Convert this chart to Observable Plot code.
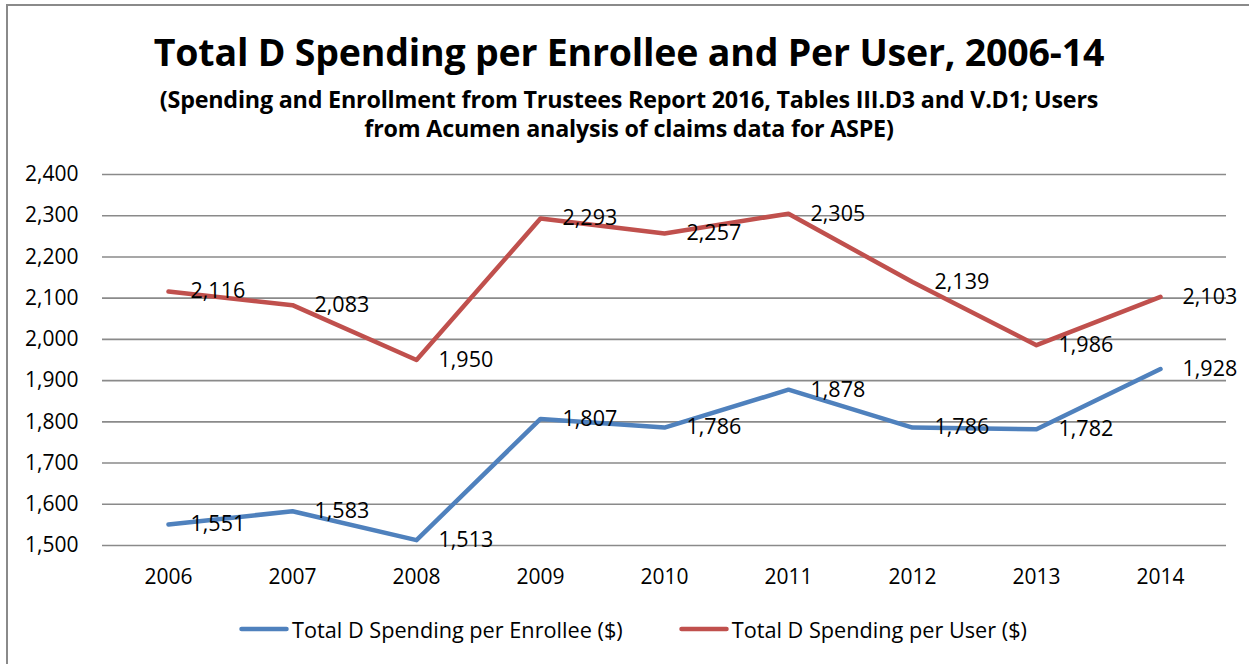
<!DOCTYPE html>
<html>
<head>
<meta charset="utf-8">
<script src="https://cdn.jsdelivr.net/npm/d3@7"></script>
<script src="https://cdn.jsdelivr.net/npm/@observablehq/plot@0.6"></script>
<style>
  html, body { margin: 0; padding: 0; background: #fff; overflow: hidden; width: 1249px; height: 664px; }
  body { position: relative; font-family: "Open Sans", Lato, sans-serif; color: #000; }
  #frame { position: absolute; left: 6px; top: 4px; width: 1270px; height: 700px; border: 2px solid #8a8a8a; box-sizing: border-box; }
  #title { position: absolute; left: 0; width: 1258px; top: 30px; line-height: 44px; text-align: center; font-weight: bold; font-size: 37.5px; letter-spacing: -0.2px; }
  #subtitle { position: absolute; left: 0; width: 1258px; top: 85px; line-height: 29px; text-align: center; font-weight: bold; font-size: 23.3px; letter-spacing: -0.2px; }
  #chart { position: absolute; left: 0; top: 150px; }
  #legend { position: absolute; left: 0; width: 1266px; top: 614px; height: 30px; display: flex; justify-content: center; align-items: center; gap: 56px; font-size: 21.7px; }
  .item { display: flex; align-items: center; gap: 3px; }
</style>
</head>
<body>
<div id="frame"></div>
<div id="title"></div>
<div id="subtitle"></div>
<div id="chart"></div>
<div id="legend"></div>
<script>
const titleText = "Total D Spending per Enrollee and Per User, 2006-14";
const subtitleLines = [
  "(Spending and Enrollment from Trustees Report 2016, Tables III.D3 and V.D1; Users",
  "from Acumen analysis of claims data for ASPE)"
];
const years = ["2006", "2007", "2008", "2009", "2010", "2011", "2012", "2013", "2014"];
const perEnrollee = [1551, 1583, 1513, 1807, 1786, 1878, 1786, 1782, 1928];
const perUser = [2116, 2083, 1950, 2293, 2257, 2305, 2139, 1986, 2103];
const yTicks = [1500, 1600, 1700, 1800, 1900, 2000, 2100, 2200, 2300, 2400];
const seriesNames = ["Total D Spending per Enrollee ($)", "Total D Spending per User ($)"];
const seriesColors = ["#4F81BD", "#C0504D"];

document.getElementById("title").textContent = titleText;
document.getElementById("subtitle").innerHTML = subtitleLines.map(s => s.replace(/&/g, "&amp;")).join("<br>");

const fmt = d3.format(",");
const data = [];
years.forEach((y, i) => {
  data.push({year: y, value: perEnrollee[i], series: seriesNames[0]});
  data.push({year: y, value: perUser[i], series: seriesNames[1]});
});

const chart = Plot.plot({
  width: 1249,
  height: 450,
  marginLeft: 102,
  marginRight: 23,
  marginTop: 24,
  marginBottom: 55,
  style: {fontFamily: "'Open Sans', Lato, sans-serif", fontSize: "21px", color: "#000", background: "transparent", overflow: "visible"},
  x: {type: "point", domain: years, padding: 0.5, label: null},
  y: {domain: [1500, 2400], label: null},
  color: {domain: seriesNames, range: seriesColors},
  marks: [
    Plot.gridY(yTicks, {stroke: "#8a8a8a", strokeOpacity: 1, strokeWidth: 1.6}),
    Plot.axisY({ticks: yTicks, tickSize: 0, tickPadding: 24, tickFormat: fmt, label: null, fontSize: 21}),
    Plot.axisX({tickSize: 0, tickPadding: 24, label: null, fontSize: 21}),
    Plot.line(data, {x: "year", y: "value", z: "series", stroke: "series", strokeWidth: 4.5, strokeLinejoin: "round", strokeLinecap: "round"}),
    Plot.text(data, {x: "year", y: "value", text: d => fmt(d.value), dx: 22, textAnchor: "start", fill: "#000", fontSize: 21.5})
  ]
});
document.getElementById("chart").appendChild(chart);

const legend = document.getElementById("legend");
seriesNames.forEach((name, i) => {
  const item = document.createElement("div");
  item.className = "item";
  item.innerHTML = `<svg width="50" height="10"><line x1="2.5" y1="5" x2="47.5" y2="5" stroke="${seriesColors[i]}" stroke-width="4.5" stroke-linecap="round"/></svg><span></span>`;
  item.querySelector("span").textContent = name;
  legend.appendChild(item);
});
</script>
</body>
</html>
